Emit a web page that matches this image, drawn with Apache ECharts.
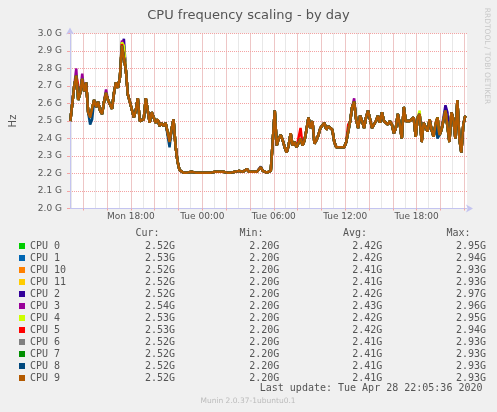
<!DOCTYPE html>
<html><head><meta charset="utf-8">
<script src="https://cdn.jsdelivr.net/npm/echarts@6/dist/echarts.min.js"></script>
<style>html,body{margin:0;padding:0;background:#f0f0f0;} #c{width:497px;height:412px;}</style>
</head><body><div id="c"></div>
<script>
// ---- data ----
const cpuNames  = ['CPU 0','CPU 1','CPU 10','CPU 11','CPU 2','CPU 3','CPU 4','CPU 5','CPU 6','CPU 7','CPU 8','CPU 9'];
const cpuColors = ['#00cc00','#0066b3','#ff8000','#ffcc00','#330099','#990099','#ccff00','#ff0000','#808080','#008f00','#00487d','#b35a00'];
const curVals = ['2.52G','2.53G','2.52G','2.52G','2.52G','2.54G','2.53G','2.53G','2.52G','2.52G','2.52G','2.52G'];
const minVals = ['2.20G','2.20G','2.20G','2.20G','2.20G','2.20G','2.20G','2.20G','2.20G','2.20G','2.20G','2.20G'];
const avgVals = ['2.42G','2.42G','2.41G','2.41G','2.42G','2.43G','2.42G','2.42G','2.41G','2.41G','2.41G','2.41G'];
const maxVals = ['2.95G','2.94G','2.93G','2.93G','2.97G','2.96G','2.95G','2.94G','2.93G','2.93G','2.93G','2.93G'];
const statHeaders = ['Cur:','Min:','Avg:','Max:'];

// common frequency trace (GHz) shared by all CPUs, one value per 10 minutes from Mon 12:55
const traceStart = Date.UTC(2020, 3, 27, 12, 55);
const traceStepMin = 10;
const trace = [
 2.50,2.60,2.70,2.76,2.62,2.66,2.74,2.67,2.72,2.55,
 2.52,2.51,2.62,2.58,2.61,2.56,2.54,2.61,2.66,2.62,
 2.63,2.57,2.66,2.72,2.69,2.75,2.93,2.93,2.79,2.65,
 2.61,2.60,2.52,2.56,2.63,2.50,2.49,2.51,2.63,2.56,
 2.49,2.55,2.56,2.49,2.51,2.47,2.49,2.47,2.49,2.48,
 2.38,2.45,2.51,2.36,2.27,2.22,2.21,
 2.205,2.21,2.205,2.205,2.21,2.205,2.205,2.21,2.205,2.21,
 2.205,2.21,2.205,2.21,2.205,2.205,2.21,2.205,2.21,2.205,
 2.21,2.205,2.205,2.21,2.205,2.21,2.21,2.205,2.215,2.205,
 2.21,2.215,2.225,2.21,2.205,2.21,2.205,2.21,2.215,2.235,
 2.215,2.21,2.205,2.21,2.215,2.205,
 2.56,2.36,2.40,2.42,2.39,2.35,2.32,2.36,2.43,2.36,
 2.38,2.35,2.36,2.40,2.36,2.39,2.45,2.52,2.46,2.50,
 2.37,2.39,2.42,2.46,2.45,2.49,2.45,2.47,2.48,2.45,
 2.38,2.35,2.36,2.35,2.36,2.35,2.38,2.44,2.50,2.58,
 2.61,2.51,2.46,2.53,2.50,2.46,2.52,2.56,2.55,2.46,
 2.47,2.50,2.53,2.49,2.55,2.50,2.49,2.48,2.50,2.48,
 2.43,2.46,2.54,2.48,2.40,2.58,2.50,2.49,2.50,2.51,
 2.52,2.41,2.52,2.54,2.38,2.49,2.48,2.44,2.51,2.45,
 2.41,2.48,2.52,2.42,2.45,2.44,2.56,2.55,2.38,2.55,
 2.51,2.40,2.62,2.40,2.32,2.48,2.53
];
// individual CPU values that stick out of the common band: [sample index, GHz]
const cpuPeaks = {
  'CPU 0': [[26,2.95]],
  'CPU 1': [[27,2.94]],
  'CPU 2': [[27,2.97],[96,2.24],[189,2.59]],
  'CPU 3': [[3,2.80],[6,2.77],[18,2.68],[26,2.96],[143,2.63]],
  'CPU 4': [[26,2.95],[176,2.56]],
  'CPU 5': [[4,2.70],[116,2.46],[140,2.48],[26,2.94]],
  'CPU 8': [[10,2.48],[50,2.35],[185,2.40]]
};
const axisMin = Date.UTC(2020, 3, 27, 12, 53, 30);
const axisMax = Date.UTC(2020, 3, 28, 22, 13, 30);
const lastUpdate = 'Last update: Tue Apr 28 22:05:36 2020';
const footer = 'Munin 2.0.37-1ubuntu0.1';
const sideText = 'RRDTOOL / TOBI OETIKER';
const dayNames = ['Sun','Mon','Tue','Wed','Thu','Fri','Sat'];

// ---- build chart ----
const times = trace.map((_, i) => traceStart + i * traceStepMin * 60000);
const series = cpuNames.map((name, k) => {
  const vals = trace.slice();
  (cpuPeaks[name] || []).forEach(([i, v]) => { vals[i] = v; });
  return {
    name, type: 'line', xAxisIndex: 1, showSymbol: false, symbol: 'none', z: 5,
    color: cpuColors[k], lineStyle: { width: 2.5, color: cpuColors[k] },
    data: vals.map((v, i) => [times[i], v]), animation: false, silent: true
  };
});

const mono = '"DejaVu Sans Mono", monospace';
const sans = '"DejaVu Sans", sans-serif';
const redGrid = '#f4a3a3';
const grayGrid = '#d2d2d2';
const axisCol = '#c4c4f0';

const graphics = [];
const headerX = [159.5, 263.5, 367, 470.5];
statHeaders.forEach((t, i) => graphics.push({
  type: 'text', x: headerX[i], y: 233.5,
  style: { text: t, fontFamily: mono, fontSize: 10, fill: '#555', align: 'right', verticalAlign: 'middle' }
}));
graphics.push({ type: 'text', x: 482.5, y: 388.5,
  style: { text: lastUpdate, fontFamily: mono, fontSize: 10, fill: '#555', align: 'right', verticalAlign: 'middle' } });
graphics.push({ type: 'text', x: 248, y: 401.5,
  style: { text: footer, fontFamily: sans, fontSize: 7.5, fill: '#bbb', align: 'center', verticalAlign: 'middle' } });
graphics.push({ type: 'text', x: 487, y: 56, rotation: -Math.PI / 2,
  style: { text: sideText, fontFamily: sans, fontSize: 7.5, fill: '#c8c8c8', align: 'center', verticalAlign: 'middle' } });

function timeLabel(v) {
  const d = new Date(v);
  if (d.getUTCMinutes() !== 0 || d.getUTCHours() % 6 !== 0) return '';
  const hh = String(d.getUTCHours()).padStart(2, '0');
  return dayNames[d.getUTCDay()] + ' ' + hh + ':00';
}

const chart = echarts.init(document.getElementById('c'), null, { renderer: 'canvas' });
chart.setOption({
  backgroundColor: '#f0f0f0',
  animation: false,
  useUTC: true,
  title: { text: 'CPU frequency scaling - by day', left: 'center', top: 4,
    textStyle: { fontFamily: sans, fontSize: 13, fontWeight: 'normal', color: '#555' } },
  grid: { left: 67, right: 30, top: 33.5, height: 175, show: true, backgroundColor: '#ffffff', borderWidth: 0 },
  xAxis: [
    { type: 'time', position: 'bottom', z: 1, min: axisMin, max: axisMax, minInterval: 3600000, maxInterval: 3600000,
      axisLine: { show: false }, axisTick: { show: false }, axisLabel: { show: false },
      splitLine: { show: true, showMinLine: false, showMaxLine: false, lineStyle: { color: grayGrid, type: [1, 1], width: 1 } } },
    { type: 'time', position: 'bottom', z: 3, min: axisMin, max: axisMax, minInterval: 3 * 3600000, maxInterval: 3 * 3600000,
      axisLine: { show: true, lineStyle: { color: axisCol, width: 1 }, symbol: ['none', 'arrow'], symbolSize: [6, 7], symbolOffset: [0, 6] },
      axisTick: { show: true, length: 2, lineStyle: { color: redGrid } },
      axisLabel: { formatter: timeLabel, showMinLabel: false, showMaxLabel: false, margin: 4,
        fontFamily: sans, fontSize: 9, color: '#555' },
      splitLine: { show: true, showMinLine: false, showMaxLine: false, lineStyle: { color: redGrid, type: [1, 1], width: 1 } } }
  ],
  yAxis: {
    type: 'value', z: 3, min: 2.0, max: 3.0, interval: 0.1,
    name: 'Hz', nameLocation: 'middle', nameGap: 52,
    nameTextStyle: { fontFamily: sans, fontSize: 10, color: '#555' },
    axisLine: { show: true, lineStyle: { color: axisCol, width: 1 }, symbol: ['none', 'arrow'], symbolSize: [6, 7], symbolOffset: [0, 6] },
    axisTick: { show: true, length: 3, lineStyle: { color: redGrid } },
    axisLabel: { formatter: v => v.toFixed(1) + ' G', margin: 8, fontFamily: sans, fontSize: 9, color: '#555' },
    splitLine: { show: true, lineStyle: { color: redGrid, type: [1, 1], width: 1 } }
  },
  legend: {
    orient: 'vertical', left: 14, top: 235, itemWidth: 6, itemHeight: 6, itemGap: 0,
    icon: 'rect', selectedMode: false,
    data: cpuNames.map((n, k) => ({ name: n, itemStyle: { color: cpuColors[k] } })),
    formatter: name => {
      const k = cpuNames.indexOf(name);
      return '{n|' + name + '}{c|' + curVals[k] + '}{m|' + minVals[k] + '}{a|' + avgVals[k] + '}{x|' + maxVals[k] + '}';
    },
    textStyle: {
      fontFamily: mono, fontSize: 10, color: '#555', lineHeight: 12,
      rich: {
        n: { width: 55, fontFamily: mono, fontSize: 10, color: '#555', lineHeight: 12 },
        c: { width: 90, align: 'right', fontFamily: mono, fontSize: 10, color: '#555', lineHeight: 12 },
        m: { width: 104.3, align: 'right', fontFamily: mono, fontSize: 10, color: '#555', lineHeight: 12 },
        a: { width: 103, align: 'right', fontFamily: mono, fontSize: 10, color: '#555', lineHeight: 12 },
        x: { width: 103.7, align: 'right', fontFamily: mono, fontSize: 10, color: '#555', lineHeight: 12 }
      }
    }
  },
  graphic: graphics,
  series
});
</script></body></html>
